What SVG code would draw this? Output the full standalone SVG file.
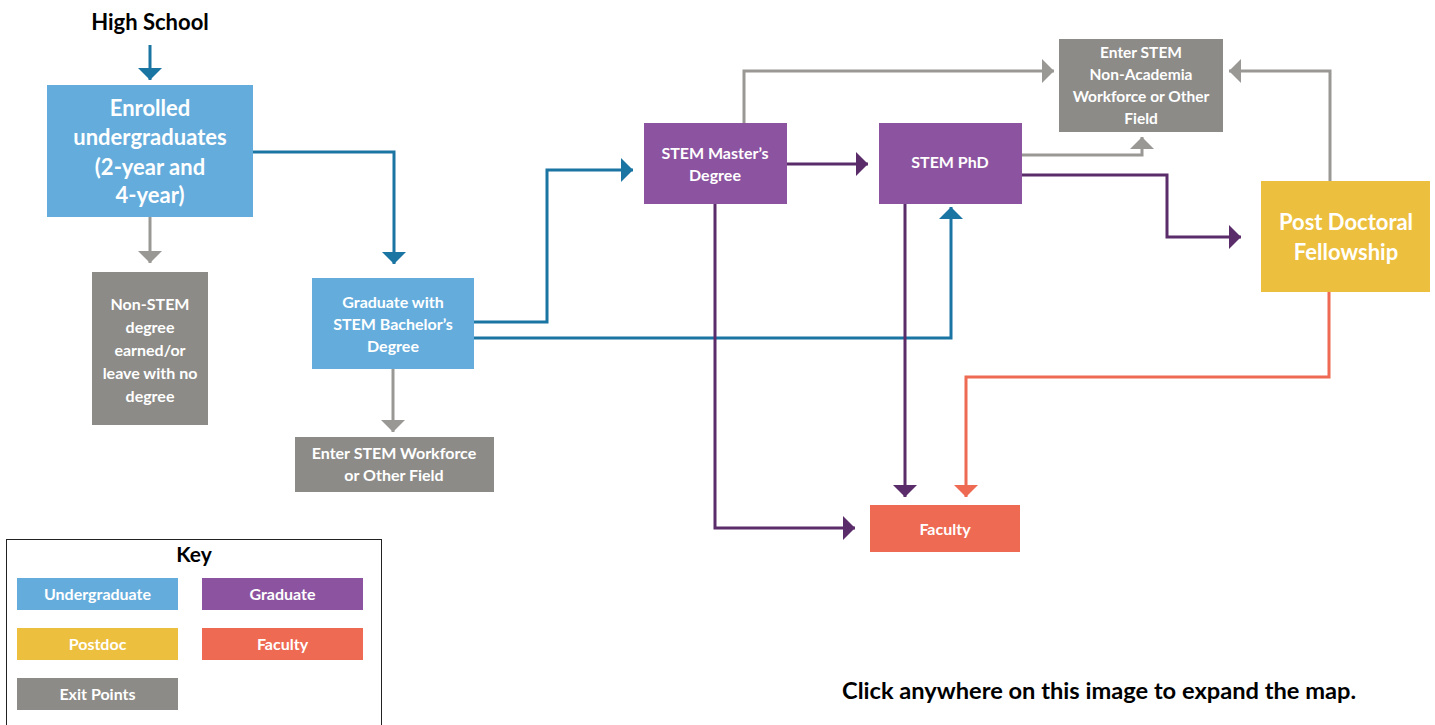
<svg xmlns="http://www.w3.org/2000/svg" width="1435" height="725" viewBox="0 0 1435 725">
<style>
text{font-family:Lato,"Open Sans","Liberation Sans",sans-serif;font-weight:bold;text-anchor:middle}
.w{fill:#fff}
.k{fill:#000}
.ug{fill:#64acdc}
.gr{fill:#8c54a0}
.pd{fill:#edbf3e}
.fa{fill:#ee6a52}
.ex{fill:#8c8b87}
.c{fill:none;stroke-width:3}
.cb{stroke:#1b75a3}
.cp{stroke:#5a2d6a}
.cg{stroke:#999894}
.co{stroke:#ee6a52}
</style>
<defs>
<marker id="ab" viewBox="0 0 12 24" refX="12" refY="12" markerWidth="12" markerHeight="24" markerUnits="userSpaceOnUse" orient="auto"><path d="M0 0L12 12L0 24Z" fill="#1b75a3"/></marker>
<marker id="ap" viewBox="0 0 12 24" refX="12" refY="12" markerWidth="12" markerHeight="24" markerUnits="userSpaceOnUse" orient="auto"><path d="M0 0L12 12L0 24Z" fill="#5a2d6a"/></marker>
<marker id="ag" viewBox="0 0 12 24" refX="12" refY="12" markerWidth="12" markerHeight="24" markerUnits="userSpaceOnUse" orient="auto"><path d="M0 0L12 12L0 24Z" fill="#999894"/></marker>
<marker id="ao" viewBox="0 0 12 24" refX="12" refY="12" markerWidth="12" markerHeight="24" markerUnits="userSpaceOnUse" orient="auto"><path d="M0 0L12 12L0 24Z" fill="#ee6a52"/></marker>
</defs>
<rect width="1435" height="725" fill="#fff"/>
<g id="connectors">
<path class="c cb" d="M150 45V80" marker-end="url(#ab)"/>
<path class="c cb" d="M253 152H394V264" marker-end="url(#ab)"/>
<path class="c cg" d="M150 217V263" marker-end="url(#ag)"/>
<path class="c cb" d="M474 322H547V170H633" marker-end="url(#ab)"/>
<path class="c cb" d="M474 338H951V207" marker-end="url(#ab)"/>
<path class="c cg" d="M393 369V432" marker-end="url(#ag)"/>
<path class="c cg" d="M744 123V71H1054" marker-end="url(#ag)"/>
<path class="c cp" d="M787 164H868" marker-end="url(#ap)"/>
<path class="c cg" d="M1022 155H1142V137" marker-end="url(#ag)"/>
<path class="c cp" d="M1022 175H1167V237H1241" marker-end="url(#ap)"/>
<path class="c cg" d="M1330 181V71H1229" marker-end="url(#ag)"/>
<path class="c co" d="M1329 292V377H966V497" marker-end="url(#ao)"/>
<path class="c cp" d="M905 204V497" marker-end="url(#ap)"/>
<path class="c cp" d="M715 204V528H855" marker-end="url(#ap)"/>
</g>
<g id="highschool"><text class="k" x="150" y="30" font-size="22">High School</text></g>
<g id="enrolled"><rect class="ug" x="47" y="85" width="206" height="132"/>
<text class="w" font-size="22"><tspan x="150" y="116">Enrolled</tspan><tspan x="150" y="145">undergraduates</tspan><tspan x="150" y="175">(2-year and</tspan><tspan x="150" y="203">4-year)</tspan></text></g>
<g id="nonstem"><rect class="ex" x="92" y="272" width="116" height="153"/>
<text class="w" font-size="16"><tspan x="150" y="310">Non-STEM</tspan><tspan x="150" y="333">degree</tspan><tspan x="150" y="356">earned/or</tspan><tspan x="150" y="379">leave with no</tspan><tspan x="150" y="402">degree</tspan></text></g>
<g id="bachelor"><rect class="ug" x="312" y="278" width="162" height="91"/>
<text class="w" font-size="16"><tspan x="393" y="308">Graduate with</tspan><tspan x="393" y="330">STEM Bachelor’s</tspan><tspan x="393" y="352">Degree</tspan></text></g>
<g id="workforce"><rect class="ex" x="295" y="437" width="199" height="55"/>
<text class="w" font-size="16"><tspan x="394" y="459">Enter STEM Workforce</tspan><tspan x="394" y="481">or Other Field</tspan></text></g>
<g id="masters"><rect class="gr" x="644" y="123" width="143" height="81"/>
<text class="w" font-size="16"><tspan x="715" y="159">STEM Master’s</tspan><tspan x="715" y="181">Degree</tspan></text></g>
<g id="phd"><rect class="gr" x="879" y="123" width="143" height="81"/>
<text class="w" font-size="16" x="950" y="168">STEM PhD</text></g>
<g id="nonacademia"><rect class="ex" x="1059" y="39" width="164" height="93"/>
<text class="w" font-size="15.5"><tspan x="1141" y="58">Enter STEM</tspan><tspan x="1141" y="80">Non-Academia</tspan><tspan x="1141" y="102">Workforce or Other</tspan><tspan x="1141" y="124">Field</tspan></text></g>
<g id="postdoc"><rect class="pd" x="1261" y="181" width="169" height="111"/>
<text class="w" font-size="22"><tspan x="1346" y="230">Post Doctoral</tspan><tspan x="1346" y="260">Fellowship</tspan></text></g>
<g id="faculty"><rect class="fa" x="870" y="505" width="150" height="47"/>
<text class="w" font-size="16" x="945" y="535">Faculty</text></g>
<g id="key"><rect x="6.5" y="539.5" width="375" height="200" fill="none" stroke="#222" stroke-width="1"/>
<text class="k" font-size="21" x="194" y="562">Key</text>
<rect class="ug" x="17" y="578" width="161" height="32"/><text class="w" font-size="16" x="97.5" y="600">Undergraduate</text>
<rect class="gr" x="202" y="578" width="161" height="32"/><text class="w" font-size="16" x="282.5" y="600">Graduate</text>
<rect class="pd" x="17" y="628" width="161" height="32"/><text class="w" font-size="16" x="97.5" y="650">Postdoc</text>
<rect class="fa" x="202" y="628" width="161" height="32"/><text class="w" font-size="16" x="282.5" y="650">Faculty</text>
<rect class="ex" x="17" y="678" width="161" height="32"/><text class="w" font-size="16" x="97.5" y="700">Exit Points</text>
</g>
<g id="note"><text class="k" font-size="23" x="1099" y="699" textLength="514" lengthAdjust="spacingAndGlyphs">Click anywhere on this image to expand the map.</text></g>
</svg>
